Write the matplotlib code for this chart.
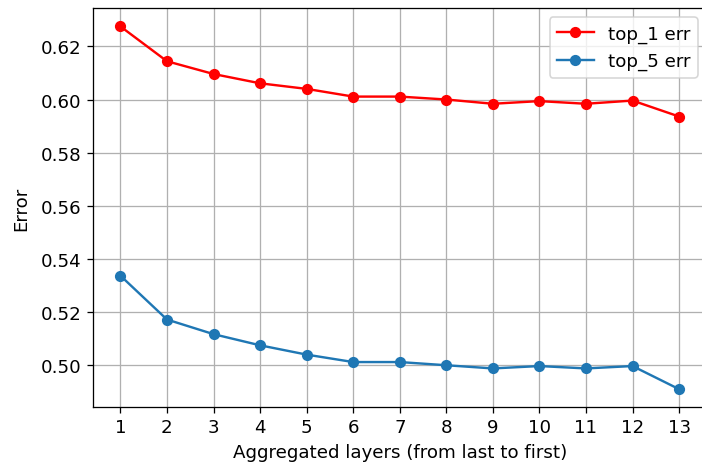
import matplotlib
matplotlib.use("Agg")
import matplotlib.pyplot as plt

# data
layers = list(range(1, 14))
top1_err = [0.6275, 0.6144, 0.6096, 0.6061, 0.6040, 0.6011, 0.6011,
            0.6000, 0.5984, 0.5994, 0.5984, 0.5996, 0.5936]
top5_err = [0.5337, 0.5172, 0.5117, 0.5075, 0.5040, 0.5012, 0.5012,
            0.5000, 0.4988, 0.4997, 0.4988, 0.4997, 0.4910]

plt.rcParams["font.size"] = 11.4

dpi = 115
fig = plt.figure(figsize=(702 / dpi, 466 / dpi), dpi=dpi)
# axes runs slightly past the right edge, as in the (cropped) reference
ax = fig.add_axes([92.5 / 702, 1 - 408.3 / 466, (707 - 92.5) / 702, (408.3 - 9.3) / 466])

ax.plot(layers, top1_err, "r-o", label="top_1 err")
ax.plot(layers, top5_err, "-o", color="#1f77b4", label="top_5 err")

ax.set_xticks(layers)
ax.set_xlabel("Aggregated layers (from last to first)")
ax.set_ylabel("Error", labelpad=6.5)
ax.grid(True)
ax.legend(loc="upper right")

plt.savefig("out.png", dpi=dpi)
plt.close()
